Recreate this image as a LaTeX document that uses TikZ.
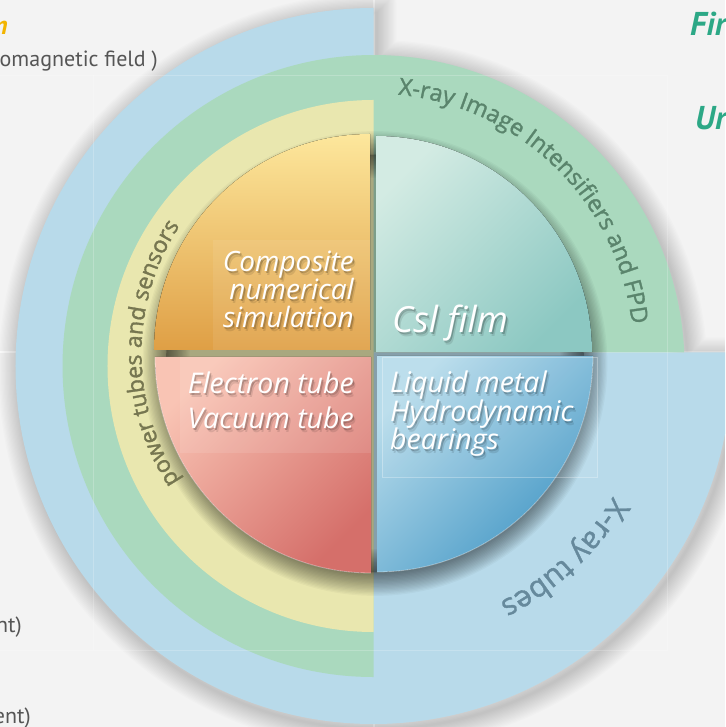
\documentclass[tikz,border=0pt]{standalone}
\usepackage{fontspec}
\setmainfont{PT Sans}
\newfontfamily\ringfont{Open Sans}[FakeBold=1.4]
\newfontfamily\capfont{Open Sans}
\usetikzlibrary{decorations.text}

\definecolor{bgpanel}{HTML}{F3F3F3}
\definecolor{ringblue}{HTML}{B8DAEA}
\definecolor{ringgreen}{HTML}{AAD9BE}
\definecolor{ringyellow}{HTML}{E9E7AF}
\definecolor{orangeA}{HTML}{FDE79C}
\definecolor{orangeB}{HTML}{DF9F45}
\definecolor{tealA}{HTML}{D3EBE3}
\definecolor{tealB}{HTML}{8CC8C2}
\definecolor{redA}{HTML}{F9C4B4}
\definecolor{redB}{HTML}{D56F6A}
\definecolor{bluA}{HTML}{B8DCEB}
\definecolor{bluB}{HTML}{4397C5}
\definecolor{txtolive}{HTML}{767650}
\definecolor{txtgreen}{HTML}{5A846C}
\definecolor{txtblue}{HTML}{66899C}
\definecolor{goldtitle}{HTML}{F2B400}
\definecolor{greentitle}{HTML}{2CA886}
\definecolor{bodygray}{HTML}{555555}

% white italic label with a soft dark drop shadow
\newcommand\qtext[4]{%
  \node[qtxt, #3, text=black, text opacity=0.10, xshift=2.6pt, yshift=-3.2pt] (#1t) at (#2) {#4};
  \node[qtxt, #3, text=black, text opacity=0.22, xshift=1.4pt, yshift=-1.9pt] (#1s) at (#2) {#4};
  \node[qtxt, #3] (#1) at (#2) {#4};}

% outline of the whole ring body (blue half, blue lower-right, green upper-right)
\def\outerpath{(0,345.5) arc[start angle=90, end angle=362.2, radius=358] -- (310.7,1) arc[start angle=2.49, end angle=90, radius=311] -- cycle}

\begin{document}
\begin{tikzpicture}[x=1pt, y=1pt,
  qtxt/.style={text=white, inner sep=0pt},
  capA/.style={font=\capfont\fontsize{28}{30}\selectfont\itshape},
  capB/.style={font=\capfont\fontsize{28.5}{30}\selectfont\itshape},
  capC/.style={font=\capfont\fontsize{28.5}{30}\selectfont\itshape},
  bgtxt/.style={text=bodygray, inner sep=0pt, font=\fontsize{22}{23}\selectfont},
  headtxt/.style={inner sep=0pt, font=\fontsize{33}{35}\selectfont\bfseries\itshape}]

\useasboundingbox (-373.5,-373.5) rectangle (351.5,353.5);
\clip (-373.5,-373.5) rectangle (351.5,353.5);

% background panels
\fill[bgpanel] (-373.5,-373.5) rectangle (351.5,353.5);
\draw[white, line width=2.5] (0.5,353.5) -- (0.5,-373.5);
\draw[white, line width=2.5] (-373.5,1.5) -- (351.5,1.5);

% soft shadow of the ring body
\foreach \k in {1,...,16} {
  \draw[black, opacity=0.012, line width=\k*2.5pt, shift={(3,-5)}] \outerpath;
}

% rings
\fill[ringblue] (0,345.5) arc[start angle=90, end angle=362.2, radius=358] -- (0,1) -- cycle;
\fill[ringgreen] (0,1) -- (310.7,1) arc[start angle=2.49, end angle=270, radius=311] -- cycle;
\fill[ringyellow] (0,253.5) arc[start angle=90, end angle=270, radius=266] -- cycle;

% shadow under the four quarters
\foreach \k in {1,...,18} {
  \draw[black, opacity=0.03, line width=\k*2.6pt] (1.5,-10) circle[radius=209];
}
\fill[black, opacity=0.27] (1.5,-10) circle[radius=209];

% the four quarters
\fill[top color=orangeA, bottom color=orangeB]
  (-3.5,3.5) -- ++(-216,0) arc[start angle=180, end angle=90, radius=216] -- cycle;
\fill[top color=tealA, bottom color=tealB, shading angle=45]
  (2.5,1.5) -- ++(216,0) arc[start angle=0, end angle=90, radius=216] -- cycle;
\fill[top color=redA, bottom color=redB, shading angle=45]
  (-2.5,-3.5) -- ++(-216,0) arc[start angle=180, end angle=270, radius=216] -- cycle;
\fill[top color=bluA, bottom color=bluB, shading angle=45]
  (3.5,-2.5) -- ++(216,0) arc[start angle=0, end angle=-90, radius=216] -- cycle;

% light rims on the lower quarters
\draw[white, opacity=0.45, line width=0.8]
  (-218.5,-3.5) arc[start angle=180, end angle=270, radius=216];
\draw[white, opacity=0.45, line width=0.8]
  (219.5,-2.5) arc[start angle=0, end angle=-90, radius=216];

% faint text panels
\fill[white, opacity=0.08] (-160.5,113.5) rectangle (-3.5,3.5);
\fill[white, opacity=0.10] (-193.5,-3.5) rectangle (-2.5,-99.5);
\filldraw[fill=white, fill opacity=0.06, draw=white, draw opacity=0.3, line width=0.6]
  (8.5,-3.5) rectangle (223.5,-123.5);

% curved ring captions
\path[decorate, decoration={text along path, text align=center,
  text={|\ringfont\fontsize{23}{23}\selectfont\color{txtolive}|power tubes and sensors}}]
  (0,0) ++(220:232) arc[start angle=220, end angle=140, radius=232];
\path[decorate, decoration={text along path, text align=center,
  text={|\ringfont\fontsize{23.5}{23.5}\selectfont\color{txtgreen}|X-ray Image Intensifiers and FPD}}]
  (0,0) ++(92:260) arc[start angle=92, end angle=-1, radius=260];
\path[decorate, decoration={text along path, text align=center,
  text={|\ringfont\fontsize{30}{30}\selectfont\color{txtblue}|X-ray tubes}}]
  (0,0) ++(-10:279) arc[start angle=-10, end angle=-84, radius=279];

% quarter captions
\qtext{comp1}{-19.5,81.5}{capA, anchor=base east}{Composite}
\qtext{comp2}{-19.5,53.5}{capA, anchor=base east}{numerical}
\qtext{comp3}{-19.5,25.5}{capA, anchor=base east}{simulation}
\qtext{csi}{18.5,20.5}{anchor=base west, font=\capfont\fontsize{36}{40}\selectfont\itshape}{Csl film}
\qtext{tube1}{-19.5,-40.5}{capB, anchor=base east}{Electron tube}
\qtext{tube2}{-19.5,-75.5}{capB, anchor=base east}{Vacuum tube}
\qtext{liq1}{16.5,-39.5}{capC, anchor=base west}{Liquid metal}
\qtext{liq2}{16.5,-68.5}{capC, anchor=base west}{Hydrodynamic}
\qtext{liq3}{16.5,-96.5}{capC, anchor=base west}{bearings}

% surrounding page text
\node[headtxt, text=goldtitle, anchor=base east, font=\fontsize{26}{28}\selectfont\bfseries\itshape] (headL) at (-365.5,318.5) {n};
\node[bgtxt, anchor=base east] (bodyL1) at (-215.5,286.5) {omagnetic field )};
\node[headtxt, text=greentitle, anchor=base west] (headR1) at (316.5,317.5) {Fir};
\node[headtxt, text=greentitle, anchor=base west] (headR2) at (321.5,223.5) {Ur};
\node[bgtxt, anchor=base east] (bodyL2) at (-351.5,-278.5) {nt)};
\node[bgtxt, anchor=base east] (bodyL3) at (-342.5,-369.5) {ent)};

% faint table rules of the page
\draw[white, opacity=0.2, line width=0.8]
  (-373.5,278.5) -- (293.5,278.5) -- (293.5,-296.5) -- (-373.5,-296.5);
\draw[white, opacity=0.2, line width=0.8] (-280.5,278.5) -- (-280.5,-296.5);

\end{tikzpicture}
\end{document}
